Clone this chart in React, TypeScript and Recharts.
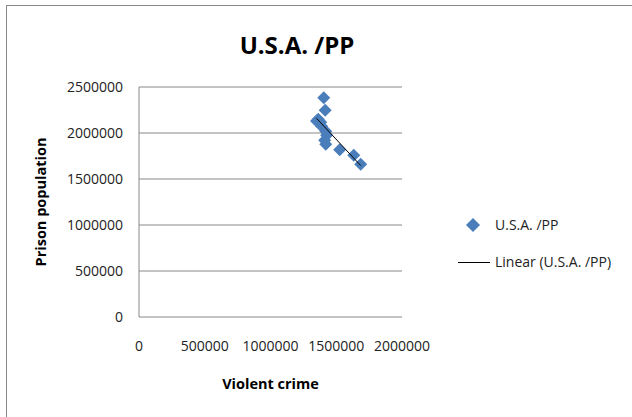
import React from 'react';
import { ScatterChart, Scatter, XAxis, YAxis, CartesianGrid } from 'recharts';

const violentCrime = [1405000, 1416000, 1363000, 1382000, 1389000, 1420000, 1427000, 1412000, 1420000, 1526000, 1633000, 1686000, 1350000];
const prisonPop = [2383000, 2247000, 2149000, 2116000, 2073000, 2018000, 1975000, 1920000, 1877000, 1817000, 1758000, 1660000, 2130000];
const xTicks = [0, 500000, 1000000, 1500000, 2000000];
const yTicks = [0, 500000, 1000000, 1500000, 2000000, 2500000];

const points = violentCrime.map((x, i) => ({ x, y: prisonPop[i] }));

// least squares trendline over the observed x range
const n = points.length;
const mx = violentCrime.reduce((a, b) => a + b, 0) / n;
const my = prisonPop.reduce((a, b) => a + b, 0) / n;
const slope =
  points.reduce((s, p) => s + (p.x - mx) * (p.y - my), 0) /
  points.reduce((s, p) => s + (p.x - mx) ** 2, 0);
const x0 = Math.min(...violentCrime);
const x1 = Math.max(...violentCrime);
const trend = [
  { x: x0, y: my + slope * (x0 - mx) },
  { x: x1, y: my + slope * (x1 - mx) },
];

const FONT = "'Open Sans', 'Noto Sans', sans-serif";
const BLUE = '#4a7ebb';

const Diamond = (props: any) => {
  const { cx, cy } = props;
  const r = 6.5;
  return <polygon points={`${cx},${cy - r} ${cx + r},${cy} ${cx},${cy + r} ${cx - r},${cy}`} fill={BLUE} />;
};

const LegendBox = () => (
  <div style={{ position: 'absolute', left: 458, top: 215, width: 170, fontFamily: FONT, fontSize: 14, color: '#222' }}>
    <div style={{ position: 'relative', height: 20 }}>
      <svg width={14} height={14} style={{ position: 'absolute', left: 8, top: 3 }}>
        <polygon points="7,0 14,7 7,14 0,7" fill={BLUE} />
      </svg>
      <span style={{ position: 'absolute', left: 37, top: 0 }}>U.S.A. /PP</span>
    </div>
    <div style={{ position: 'relative', height: 20, marginTop: 17 }}>
      <div style={{ position: 'absolute', left: 0, top: 10, width: 32, borderTop: '1px solid #000' }} />
      <span style={{ position: 'absolute', left: 37, top: 0, whiteSpace: 'nowrap' }}>Linear (U.S.A. /PP)</span>
    </div>
  </div>
);

export default function App() {
  return (
    <div style={{ position: 'absolute', left: 0, top: 0, width: 632, height: 417, background: '#fff', overflow: 'hidden' }}>
      <div style={{ position: 'absolute', left: 6, top: 5, width: 700, height: 500, border: '1px solid #888' }} />
      <div
        style={{
          position: 'absolute', left: 0, top: 28, width: 594, textAlign: 'center',
          fontFamily: FONT, fontWeight: 700, fontSize: 24, color: '#000',
        }}
      >
        U.S.A. /PP
      </div>
      <div style={{ position: 'absolute', left: 0, top: 0 }}>
        <ScatterChart width={632} height={417} margin={{ top: 87, right: 230, bottom: 50, left: 69 }}>
          <CartesianGrid horizontal vertical={false} stroke="#888" />
          <XAxis
            type="number"
            dataKey="x"
            domain={[0, 2000000]}
            ticks={xTicks}
            interval={0}
            axisLine={false}
            tickLine={false}
            tickMargin={18}
            height={50}
            tick={{ fontFamily: FONT, fontSize: 14, fill: '#222' }}
            label={{ value: 'Violent crime', position: 'insideBottom', offset: -22, style: { fontFamily: FONT, fontSize: 14.5, fontWeight: 700, fill: '#000' } }}
          />
          <YAxis
            type="number"
            dataKey="y"
            domain={[0, 2500000]}
            ticks={yTicks}
            interval={0}
            width={70}
            axisLine={{ stroke: '#888' }}
            tickLine={false}
            tickMargin={10}
            tick={{ fontFamily: FONT, fontSize: 14, fill: '#222' }}
            label={{ value: 'Prison population', angle: -90, position: 'insideLeft', offset: -28, style: { fontFamily: FONT, fontSize: 14.5, fontWeight: 700, fill: '#000', textAnchor: 'middle' } }}
          />
          <Scatter data={points} shape={<Diamond />} isAnimationActive={false} />
          <Scatter data={trend} line={{ stroke: '#000', strokeWidth: 1 }} shape={() => <g />} isAnimationActive={false} />
        </ScatterChart>
      </div>
      <LegendBox />
    </div>
  );
}
